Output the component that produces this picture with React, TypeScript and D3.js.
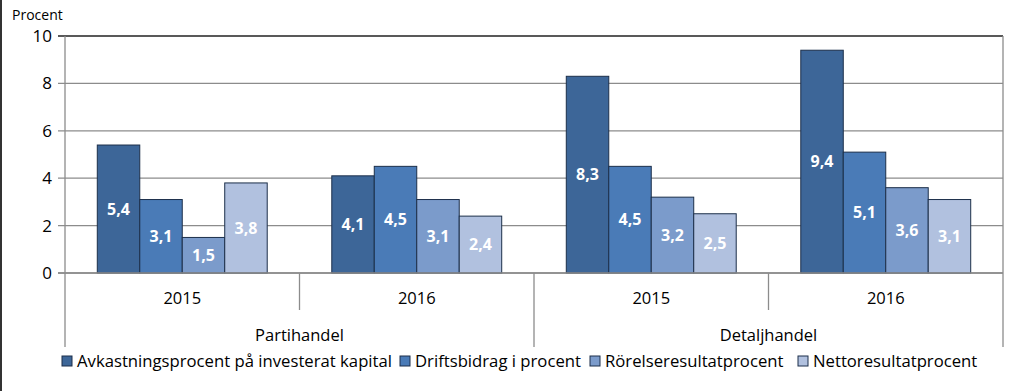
import React from "react";
import * as d3 from "d3";

const groups = ["Partihandel", "Detaljhandel"];
const years = ["2015", "2016"];
const categories = ["Partihandel 2015", "Partihandel 2016", "Detaljhandel 2015", "Detaljhandel 2016"];
const seriesNames = [
  "Avkastningsprocent på investerat kapital",
  "Driftsbidrag i procent",
  "Rörelseresultatprocent",
  "Nettoresultatprocent",
];
const avkastning = [5.4, 4.1, 8.3, 9.4];
const driftsbidrag = [3.1, 4.5, 4.5, 5.1];
const rorelse = [1.5, 3.1, 3.2, 3.6];
const netto = [3.8, 2.4, 2.5, 3.1];
const yTicks = [0, 2, 4, 6, 8, 10];
const colors = ["#3d6698", "#4a7bb7", "#7b9bcb", "#b1c1df"];

const W = 1024;
const H = 391;
const FONT = "'Open Sans', 'Noto Sans', sans-serif";

export default function App() {
  const series = [avkastning, driftsbidrag, rorelse, netto];
  const left = 65, right = 1003, top = 36, bottom = 273;
  const y = d3.scaleLinear().domain([0, 10]).range([bottom, top]);
  const x0 = d3.scaleBand().domain(categories).range([left, right]).padding(0);
  const x1 = d3
    .scaleBand()
    .domain(seriesNames)
    .range([0, x0.bandwidth()])
    .paddingInner(0)
    .paddingOuter(0.76);
  const groupScale = d3.scaleBand().domain(groups).range([left, right]).padding(0);

  const legendX = [62, 400, 590, 798];

  return (
    <div style={{ position: "absolute", left: 0, top: 0 }}>
      <svg width={W} height={H} style={{ display: "block", background: "#fff" }}>
        <rect x={0} y={0} width={W} height={H} fill="#fff" />
        <line x1={1} x2={1} y1={0} y2={H} stroke="#333" strokeWidth={2} />
        <text x={12} y={20} fontFamily={FONT} fontSize={14} fill="#000">
          Procent
        </text>
        {yTicks.map((t) => (
          <g key={t}>
            <line
              x1={left - 7}
              x2={right}
              y1={y(t)}
              y2={y(t)}
              stroke={t === 10 ? "#222" : "#8c8c8c"}
              strokeWidth={t === 10 ? 1.5 : 1.3}
            />
            <text
              x={52}
              y={y(t)}
              dy="0.35em"
              textAnchor="end"
              fontFamily={FONT}
              fontSize={17}
              fill="#000"
            >
              {t}
            </text>
          </g>
        ))}
        <line x1={left} x2={left} y1={top} y2={bottom} stroke="#8c8c8c" strokeWidth={1.3} />
        <line x1={right} x2={right} y1={top} y2={bottom} stroke="#8c8c8c" strokeWidth={1.3} />
        {categories.map((c, ci) => (
          <g key={c} transform={`translate(${x0(c)},0)`}>
            {series.map((s, si) => {
              const v = s[ci];
              const bx = x1(seriesNames[si]) as number;
              const bw = x1.bandwidth();
              return (
                <g key={si}>
                  <rect
                    x={bx}
                    y={y(v)}
                    width={bw}
                    height={y(0) - y(v)}
                    fill={colors[si]}
                    stroke="#1c2f4a"
                    strokeWidth={1}
                  />
                  <text
                    x={bx + bw / 2}
                    y={(y(v) + y(0)) / 2}
                    dy="0.35em"
                    textAnchor="middle"
                    fontFamily={FONT}
                    fontWeight="bold"
                    fontSize={16}
                    fill="#fff"
                  >
                    {v.toFixed(1).replace(".", ",")}
                  </text>
                </g>
              );
            })}
          </g>
        ))}
        {/* category axis */}
        <line x1={left - 7} x2={right} y1={bottom} y2={bottom} stroke="#8c8c8c" strokeWidth={1.3} />
        {categories.map((c, ci) => (
          <g key={"cat" + c}>
            <text
              x={(x0(c) as number) + x0.bandwidth() / 2}
              y={298}
              dy="0.35em"
              textAnchor="middle"
              fontFamily={FONT}
              fontSize={16.5}
              fill="#000"
            >
              {years[ci % 2]}
            </text>
            {ci % 2 === 1 && (
              <line
                x1={x0(c) as number}
                x2={x0(c) as number}
                y1={bottom}
                y2={310}
                stroke="#8c8c8c"
                strokeWidth={1.3}
              />
            )}
          </g>
        ))}
        {groups.map((g) => (
          <text
            key={g}
            x={(groupScale(g) as number) + groupScale.bandwidth() / 2}
            y={335}
            dy="0.35em"
            textAnchor="middle"
            fontFamily={FONT}
            fontSize={16.5}
            fill="#000"
          >
            {g}
          </text>
        ))}
        {[left, groupScale(groups[1]) as number, right].map((xx, i) => (
          <line key={"gd" + i} x1={xx} x2={xx} y1={bottom} y2={347} stroke="#8c8c8c" strokeWidth={1.3} />
        ))}
        {/* legend */}
        {seriesNames.map((n, i) => (
          <g key={n} transform={`translate(${legendX[i]},0)`}>
            <rect x={0} y={356} width={10} height={10} fill={colors[i]} stroke="#1c2f4a" strokeWidth={1} />
            <text x={15} y={361} dy="0.35em" fontFamily={FONT} fontSize={16.7} fill="#000">
              {n}
            </text>
          </g>
        ))}
      </svg>
    </div>
  );
}
